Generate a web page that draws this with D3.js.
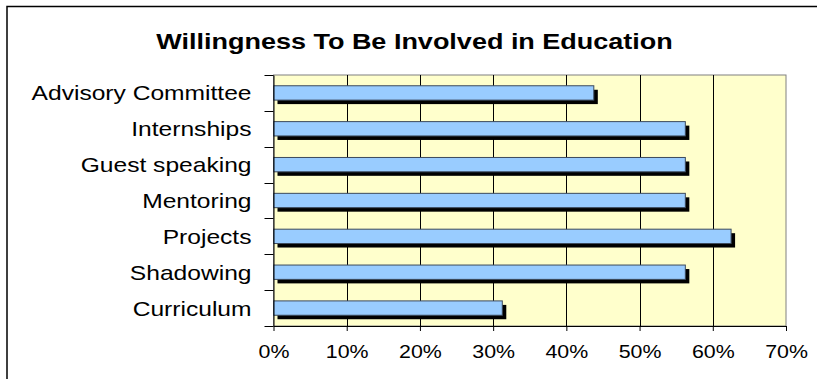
<!DOCTYPE html>
<html>
<head>
<meta charset="utf-8">
<script src="https://cdn.jsdelivr.net/npm/d3@7"></script>
<style>
  html, body { margin: 0; padding: 0; background: #fff; }
  svg { display: block; }
  text { font-family: "Liberation Sans", Arial, sans-serif; fill: #000; }
</style>
</head>
<body>
<svg id="chart" width="817" height="379"></svg>
<script>
const title = "Willingness To Be Involved in Education";
const categories = ["Advisory Committee", "Internships", "Guest speaking", "Mentoring", "Projects", "Shadowing", "Curriculum"];
const values = [0.4375, 0.5625, 0.5625, 0.5625, 0.625, 0.5625, 0.3125];
const xTicks = [0, 0.1, 0.2, 0.3, 0.4, 0.5, 0.6, 0.7];

const W = 817, H = 379;
const SX = 1.2; // horizontal stretch of the original's text
const plot = { left: 273.5, right: 786, top: 75, bottom: 326 };

const svg = d3.select("#chart");

// outer frame
svg.append("rect")
  .attr("x", 7).attr("y", 6.5)
  .attr("width", W + 10).attr("height", H + 10)
  .attr("fill", "#fff").attr("stroke", "#000").attr("stroke-width", 1.5);

// title
svg.append("text")
  .attr("transform", `translate(${(W + 12) / 2},48.5) scale(${SX},1)`)
  .attr("text-anchor", "middle")
  .style("font-weight", "bold").style("font-size", "22.5px")
  .text(title);

const x = d3.scaleLinear().domain([0, 0.7]).range([plot.left, plot.right]);
const y = d3.scaleBand().domain(categories).range([plot.top, plot.bottom])
  .paddingInner(0.6).paddingOuter(0.3);

// plot area
svg.append("rect")
  .attr("x", plot.left).attr("y", plot.top)
  .attr("width", plot.right - plot.left).attr("height", plot.bottom - plot.top)
  .attr("fill", "#FFFFCC").attr("stroke", "#808080").attr("stroke-width", 1);

// gridlines
svg.append("g").selectAll("line")
  .data(xTicks.slice(1, -1))
  .join("line")
  .attr("x1", d => Math.round(x(d)) + 0.5).attr("x2", d => Math.round(x(d)) + 0.5)
  .attr("y1", plot.top).attr("y2", plot.bottom)
  .attr("stroke", "#000").attr("stroke-width", 1);

// shadows
const off = 4;
svg.append("g").selectAll("rect")
  .data(categories)
  .join("rect")
  .attr("x", x(0) + off)
  .attr("y", d => y(d) + off)
  .attr("width", (d, i) => x(values[i]) - x(0))
  .attr("height", y.bandwidth())
  .attr("fill", "#000");

// bars
svg.append("g").selectAll("rect")
  .data(categories)
  .join("rect")
  .attr("x", x(0))
  .attr("y", d => y(d))
  .attr("width", (d, i) => x(values[i]) - x(0))
  .attr("height", y.bandwidth())
  .attr("fill", "#99CCFF")
  .attr("stroke", "#3c4a5c").attr("stroke-width", 1);

// x axis
const xAxis = svg.append("g")
  .attr("transform", `translate(0,${plot.bottom})`)
  .call(d3.axisBottom(x).tickValues(xTicks).tickFormat(d3.format(".0%")).tickSize(5).tickPadding(0).tickSizeOuter(0));
xAxis.select(".domain").attr("stroke", "#000");
xAxis.selectAll(".tick line").attr("stroke", "#000");
xAxis.selectAll(".tick text")
  .attr("y", 0).attr("dy", 0)
  .attr("transform", `translate(0,32) scale(${SX},1)`)
  .style("font-size", "17.8px").style("font-family", "Liberation Sans, Arial, sans-serif");

// y axis labels
const yAxis = svg.append("g")
  .attr("transform", `translate(${plot.left},0)`)
  .call(d3.axisLeft(y).tickSize(0).tickPadding(0));
yAxis.select(".domain").attr("stroke", "#000");
yAxis.selectAll(".tick text")
  .attr("x", 0).attr("dy", 0)
  .attr("transform", `translate(-22,7.5) scale(${SX},1)`)
  .style("font-size", "20.5px").style("font-family", "Liberation Sans, Arial, sans-serif");

// y boundary ticks
const gap = (y.step() - y.bandwidth()) / 2;
const bounds = categories.map(c => y(c) - gap).concat([y(categories[categories.length - 1]) + y.bandwidth() + gap]);
svg.append("g").selectAll("line")
  .data(bounds)
  .join("line")
  .attr("x1", plot.left - 9).attr("x2", plot.left)
  .attr("y1", d => Math.round(d) + 0.5).attr("y2", d => Math.round(d) + 0.5)
  .attr("stroke", "#000");
</script>
</body>
</html>
